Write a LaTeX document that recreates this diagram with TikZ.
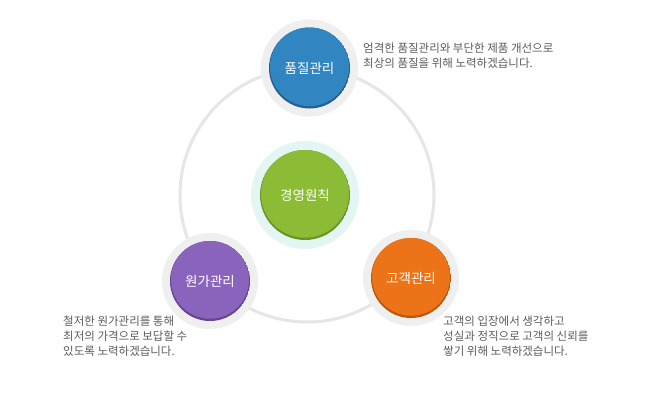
\documentclass[tikz,border=0pt]{standalone}
\usepackage{fontspec}
\newfontfamily\kr{Noto Sans CJK KR}
\definecolor{ringc}{HTML}{E6E6E6}
\definecolor{haloc}{HTML}{EFEFEF}
\definecolor{halog}{HTML}{E4F6F4}
\definecolor{txtc}{HTML}{5C5C5C}
\definecolor{blueb}{HTML}{3185C0}
\definecolor{blued}{HTML}{255F93}
\definecolor{purpb}{HTML}{8A63BC}
\definecolor{purpd}{HTML}{664694}
\definecolor{orab}{HTML}{EC7317}
\definecolor{orad}{HTML}{BC580C}
\definecolor{greb}{HTML}{8CBB35}
\definecolor{gred}{HTML}{6A9423}
\tikzset{
  ball/.style n args={4}{circle, inner sep=0pt, minimum size=#1,
    text=white, font=\kr\fontsize{13.5}{15}\selectfont,
    preaction={draw=#4, line width=#1*0.2},
    path picture={
      \fill[#3] (path picture bounding box.center) circle (#1/2);
      \fill[#2] ([yshift=1.3pt]path picture bounding box.center) circle (#1/2-1pt);
    }},
  desc/.style={anchor=north west, inner sep=0pt, align=left, text=txtc,
    font=\kr\fontsize{11.5}{15}\selectfont}
}
\begin{document}
\begin{tikzpicture}[x=1pt,y=-1pt]
\useasboundingbox (0,0) rectangle (650,402);
\fill[white] (0,0) rectangle (650,402);
\coordinate (ringc) at (307,195);
\draw[ringc, line width=3pt] (ringc) circle (127);
\node[ball={81pt}{blueb}{blued}{haloc}] (quality) at (309.5,68) {품질관리};
\node[ball={80pt}{purpb}{purpd}{haloc}] (cost) at (210,281) {원가관리};
\node[ball={80pt}{orab}{orad}{haloc}] (customer) at (411,278) {고객관리};
\node[ball={90pt}{greb}{gred}{halog}] (principle) at (305,195) {경영원칙};
\node[desc] (qtext) at (363,42.5) {엄격한 품질관리와 부단한 제품 개선으로\\최상의 품질을 위해 노력하겠습니다.};
\node[desc] (ctext) at (63,316) {철저한 원가관리를 통해\\최저의 가격으로 보답할 수\\있도록 노력하겠습니다.};
\node[desc] (utext) at (443,316) {고객의 입장에서 생각하고\\성실과 정직으로 고객의 신뢰를\\쌓기 위해 노력하겠습니다.};
\end{tikzpicture}
\end{document}
